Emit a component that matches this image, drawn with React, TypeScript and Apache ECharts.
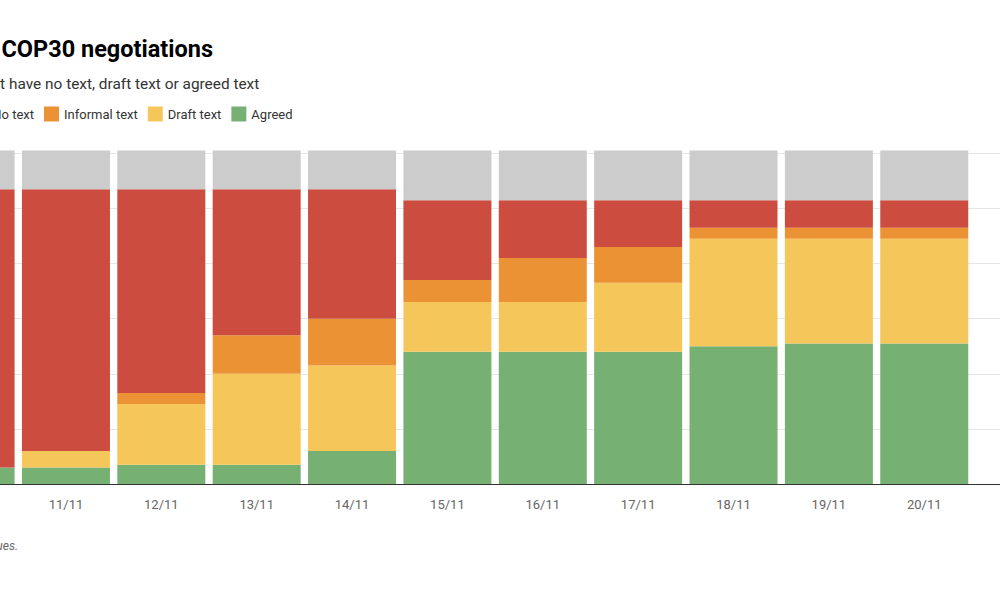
import React, { useEffect, useRef } from "react";
import * as echarts from "echarts";

const categories = ["10/11", "11/11", "12/11", "13/11", "14/11", "15/11", "16/11", "17/11", "18/11", "19/11", "20/11", "21/11"];
const agreed = [6, 6, 7, 7, 12, 48, 48, 48, 50, 51, 51];
const draftText = [0, 6, 22, 33, 31, 18, 18, 25, 39, 38, 38];
const informalText = [0, 0, 4, 14, 17, 8, 16, 13, 4, 4, 4];
const noText = [101, 95, 74, 53, 47, 29, 21, 17, 10, 10, 10];
const notStarted = [14, 14, 14, 14, 14, 18, 18, 18, 18, 18, 18];
const yTicks = { min: 0, max: 120, interval: 20 };

const COLORS = {
  agreed: "#76b073",
  draft: "#f5c65a",
  informal: "#eb9234",
  noText: "#cc4d3f",
  notStarted: "#cccccc",
};

const OFFSET = 200; // container shifted left by this many px
const FONT = "Roboto, 'Noto Sans', sans-serif";

function measure(text: string, font: string): number {
  const c = document.createElement("canvas");
  const ctx = c.getContext("2d");
  if (!ctx) return text.length * 6.5;
  ctx.font = font;
  return ctx.measureText(text).width;
}

export default function App() {
  const ref = useRef<HTMLDivElement>(null);

  useEffect(() => {
    if (!ref.current) return;
    const chart = echarts.init(ref.current, undefined, { renderer: "svg" });

    const legendGap = 10;
    const swatch = 15;
    const firstW = measure("No text", "13px Roboto");
    // Position so the "Informal text" swatch lands at page x = 44
    const legendLeft = 44 + OFFSET - (swatch + 5 + firstW + legendGap);

    const mk = (name: string, data: number[], color: string) => ({
      name,
      type: "bar",
      stack: "total",
      data,
      barWidth: 88,
      clip: false,
      itemStyle: { color },
      emphasis: { disabled: true },
    });

    chart.setOption({
      animation: false,
      backgroundColor: "#ffffff",
      textStyle: { fontFamily: FONT },
      legend: {
        data: ["No text", "Informal text", "Draft text", "Agreed"],
        left: legendLeft,
        top: 106.5,
        padding: 0,
        itemWidth: swatch,
        itemHeight: swatch,
        itemGap: legendGap,
        icon: "rect",
        selectedMode: false,
        textStyle: { fontSize: 13, color: "#333333", fontFamily: FONT },
      },
      grid: {
        left: OFFSET - 77.1,
        right: 1400 - (OFFSET - 77.1 + 1144.4),
        top: 153.3,
        bottom: 116,
        containLabel: false,
      },
      xAxis: {
        type: "category",
        data: categories,
        axisLine: { lineStyle: { color: "#333333", width: 1 } },
        axisTick: { alignWithLabel: true, length: 5, lineStyle: { color: "#333333" } },
        axisLabel: { color: "#666666", fontSize: 13, margin: 14, fontFamily: FONT },
      },
      yAxis: {
        type: "value",
        position: "right",
        min: yTicks.min,
        max: yTicks.max,
        interval: yTicks.interval,
        axisLine: { show: false },
        axisTick: { show: false },
        axisLabel: { color: "#666666", fontSize: 13 },
        splitLine: { lineStyle: { color: "#e6e6e6", width: 1 } },
      },
      graphic: [
        {
          type: "text",
          x: 213 + OFFSET,
          y: 49.2,
          style: {
            text: "Progress of COP30 negotiations",
            align: "right",
            verticalAlign: "middle",
            font: `bold 23.5px ${FONT}`,
            fill: "#000000",
          },
        },
        {
          type: "text",
          x: 259.3 + OFFSET,
          y: 84.2,
          style: {
            text: "Number of agenda items that have no text, draft text or agreed text",
            align: "right",
            verticalAlign: "middle",
            font: `15.4px ${FONT}`,
            fill: "#333333",
          },
        },
        {
          type: "text",
          x: 18 + OFFSET,
          y: 545.7,
          style: {
            text: "Source: Carbon Brief analysis of UNFCCC agenda issues.",
            align: "right",
            verticalAlign: "middle",
            font: `italic 12px ${FONT}`,
            fill: "#666666",
          },
        },
      ],
      series: [
        mk("Agreed", agreed, COLORS.agreed),
        mk("Draft text", draftText, COLORS.draft),
        mk("Informal text", informalText, COLORS.informal),
        mk("No text", noText, COLORS.noText),
        mk("Not started", notStarted, COLORS.notStarted),
      ],
    });

    return () => chart.dispose();
  }, []);

  return (
    <div style={{ position: "fixed", left: 0, top: 0, width: 1000, height: 600, overflow: "hidden", background: "#fff" }}>
      <div ref={ref} style={{ position: "absolute", left: -OFFSET, top: 0, width: 1400, height: 600 }} />
    </div>
  );
}
